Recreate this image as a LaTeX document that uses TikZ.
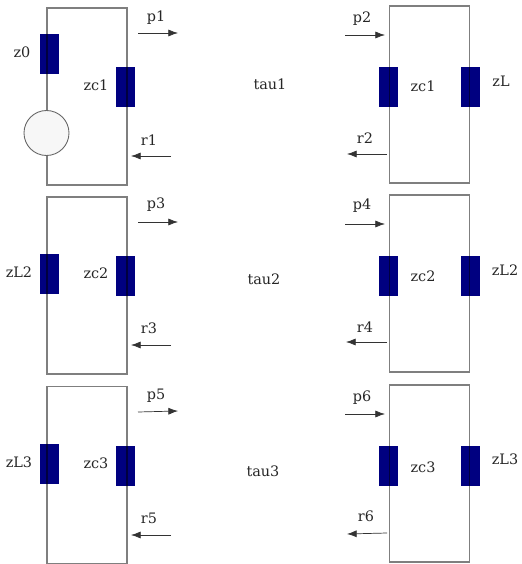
\documentclass[tikz,border=0pt]{standalone}
\usepackage{fontspec}
\setmainfont{DejaVu Serif}
\usetikzlibrary{arrows.meta}

\begin{document}
\begin{tikzpicture}[x=0.02cm,y=-0.02cm,
		load/.style={fill={rgb,255:red,0;green,0;blue,128},inner sep=0pt,minimum width=.38cm,minimum height=.8cm},
		loop/.style={draw=black,draw opacity=.5,line width=.6pt,inner sep=0pt,minimum width=1.6cm,minimum height=3.54cm},
		flow/.style={-{Latex[length=5.5pt,width=4pt]},draw=black!80,line width=.4pt},
		lab/.style={inner sep=0pt,text=black!85,font=\fontsize{8.2}{10}\selectfont}]
		\useasboundingbox (0,0) rectangle (521,564);
		
		\node[load] (z0) at (49.5,54) {};
		\node[load] (zl2a) at (49.5,274) {};
		\node[load] (zl3a) at (49.5,464) {};
		
		\foreach \n/\ya/\yb in {1/87/87,2/276/276,3/466/466}{
			\node[load] (zcl\n) at (125.5,\ya) {};
			\node[load] (zcr\n) at (388.5,\yb) {};
			\node[load] (zlr\n) at (470.5,\yb) {};
		}
		
		\node[loop] (box1) at (87,96.5) {};
		\node[loop] (box2) at (429.5,94.5) {};
		\node[loop] (box3) at (87,285.5) {};
		\node[loop] (box4) at (429.5,283.5) {};
		\node[loop] (box5) at (87,474.7) {};
		\node[loop] (box6) at (429.5,473.5) {};
		
		\node[circle,draw=black!60,line width=.5pt,fill=black!3,inner sep=0pt,minimum size=.9cm] (src) at (46.5,133) {};
		
		\node[lab] (tz0) at (22,52) {z0};
		\node[lab] (tzl) at (501,81) {zL};
		\node[lab] (tzl2a) at (19,272) {zL2};
		\node[lab] (tzl2b) at (505,270) {zL2};
		\node[lab] (tzl3a) at (19,462) {zL3};
		\node[lab] (tzl3b) at (505,459) {zL3};
		\node[lab] (tzc1a) at (96,85) {zc1};
		\node[lab] (tzc1b) at (423,86) {zc1};
		\node[lab] (tzc2a) at (96,273) {zc2};
		\node[lab] (tzc2b) at (423,276) {zc2};
		\node[lab] (tzc3a) at (96,463) {zc3};
		\node[lab] (tzc3b) at (423,467) {zc3};
		\node[lab] (tau1) at (270,84) {tau1};
		\node[lab] (tau2) at (264,279) {tau2};
		\node[lab] (tau3) at (263,471) {tau3};
		
		\foreach \n/\lx/\ly/\xa/\ya/\xb/\yb in {
			p1/156/18/138/33/178/33,
			r1/149/140/171/156/131/156,
			p2/362/19/345/35/385/35,
			r2/365/138/387/154/347/154,
			p3/156/205/138/222/178/222,
			r3/149/328/171/345/131/345,
			p4/362/206/345/224/385/224,
			r4/365/327/387/342/346/342,
			p5/156/396/138/412/178/411,
			r5/149/518/171/535/131/535,
			p6/362/398/345/414/385/414,
			r6/366/516/387/533/347/534}{
			\node[lab] (t\n) at (\lx,\ly) {\n};
			\coordinate (\n a) at (\xa,\ya);
			\coordinate (\n b) at (\xb,\yb);
			\draw[flow] (\n a) -- (\n b);
		}
	\end{tikzpicture}
\end{document}
